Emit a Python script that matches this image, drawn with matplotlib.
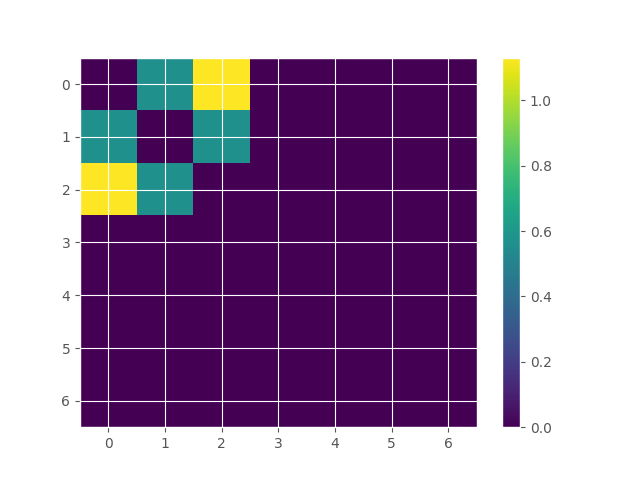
import matplotlib
matplotlib.use("Agg")
import matplotlib.pyplot as plt
import numpy as np

plt.style.use("ggplot")

# значения матрицы 7x7
size = 7
low_val = 0.566
high_val = 1.131
cells_low = [(0, 1), (1, 0), (1, 2), (2, 1)]
cells_high = [(0, 2), (2, 0)]

mat = np.zeros((size, size))
for r, c in cells_low:
    mat[r, c] = low_val
for r, c in cells_high:
    mat[r, c] = high_val

fig, ax = plt.subplots(figsize=(6.4, 4.8), dpi=100)
im = ax.imshow(mat, cmap="viridis", aspect="auto")
fig.colorbar(im, ax=ax)

fig.savefig("out.png")
